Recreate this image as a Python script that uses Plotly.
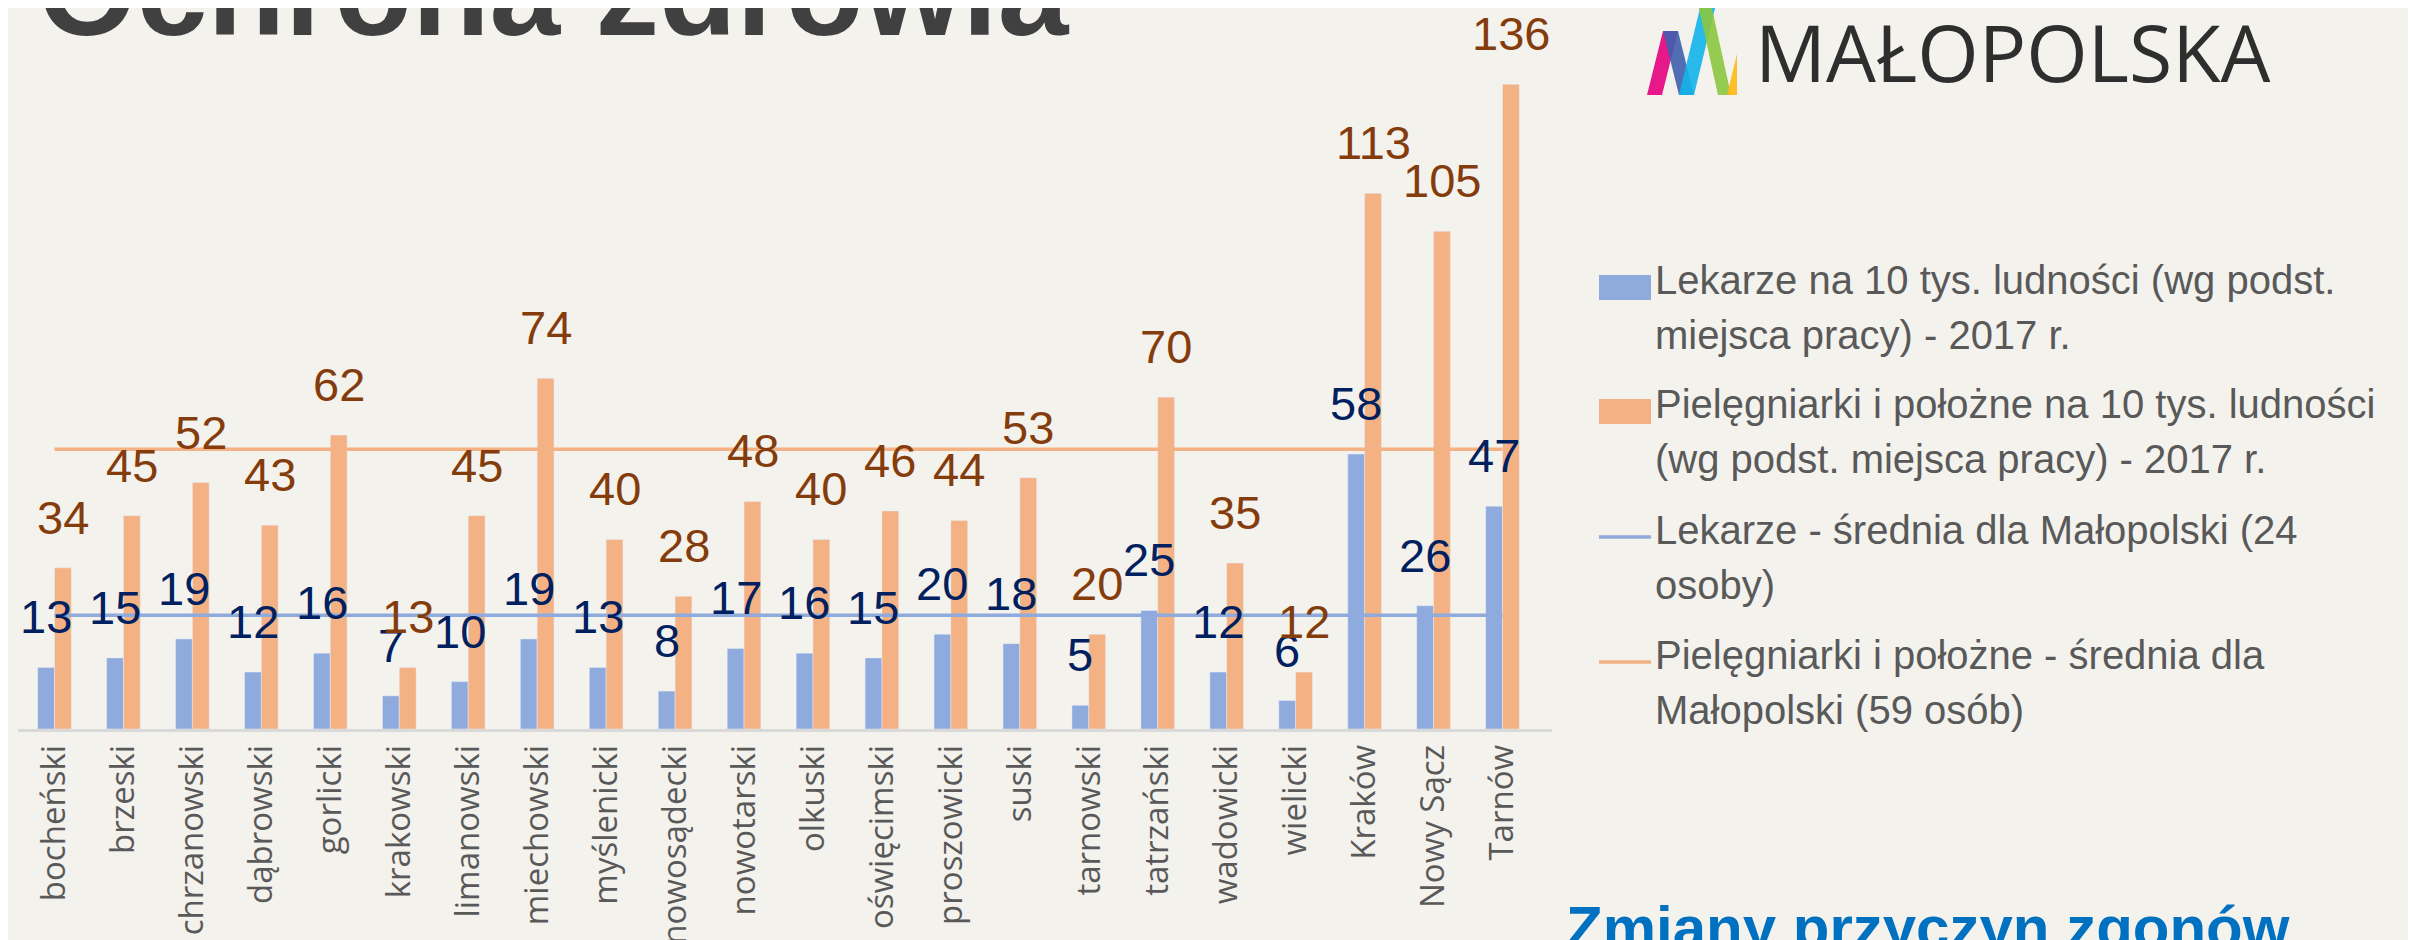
import plotly.graph_objects as go

# ---------------- data ----------------
categories = ["bocheński", "brzeski", "chrzanowski", "dąbrowski", "gorlicki", "krakowski",
              "limanowski", "miechowski", "myślenicki", "nowosądecki", "nowotarski", "olkuski",
              "oświęcimski", "proszowicki", "suski", "tarnowski", "tatrzański", "wadowicki",
              "wielicki", "Kraków", "Nowy Sącz", "Tarnów"]
lekarze = [13, 15, 19, 12, 16, 7, 10, 19, 13, 8, 17, 16, 15, 20, 18, 5, 25, 12, 6, 58, 26, 47]
pielegniarki = [34, 45, 52, 43, 62, 13, 45, 74, 40, 28, 48, 40, 46, 44, 53, 20, 70, 35, 12, 113, 105, 136]
lekarze_avg = [24, 24]
pielegniarki_avg = [59, 59]
avg_x = [categories[0], categories[-1]]

legend_texts = [
    ["Lekarze na 10 tys. ludności (wg podst.", "miejsca pracy) - 2017 r."],
    ["Pielęgniarki i położne na 10 tys. ludności", "(wg podst. miejsca pracy) - 2017 r."],
    ["Lekarze - średnia dla Małopolski (24", "osoby)"],
    ["Pielęgniarki i położne - średnia dla", "Małopolski (59 osób)"],
]
title_text = "Ochrona zdrowia"
logo_text = "MAŁOPOLSKA"
footer_text = "Zmiany przyczyn zgonów"

# ---------------- style ----------------
W, H = 2416, 940
BG = "#F4F2ED"
BLUE = "#8FAADC"
ORANGE = "#F4B183"
BLUE_TXT = "#002060"
ORANGE_TXT = "#843C0C"
SANS = "Liberation Sans, Arial"
LABEL_SIZE = 47
BAR_HALF = 8.5      # px offset of each bar centre from the category centre
LABEL_LIFT = 22     # px between bar top and label box


def px(x):
    return x / W


def py(y):
    return 1 - y / H


fig = go.Figure()
fig.add_trace(go.Bar(
    x=categories, y=lekarze, name=legend_texts[0][0] + " " + legend_texts[0][1],
    marker=dict(color=BLUE), showlegend=False, cliponaxis=False))
fig.add_trace(go.Bar(
    x=categories, y=pielegniarki, name=legend_texts[1][0] + " " + legend_texts[1][1],
    marker=dict(color=ORANGE), showlegend=False, cliponaxis=False))
fig.add_trace(go.Scatter(
    x=avg_x, y=lekarze_avg, mode="lines", line=dict(color=BLUE, width=3.5),
    name=legend_texts[2][0] + " " + legend_texts[2][1], showlegend=False, hoverinfo="skip"))
fig.add_trace(go.Scatter(
    x=avg_x, y=pielegniarki_avg, mode="lines", line=dict(color=ORANGE, width=3.5),
    name=legend_texts[3][0] + " " + legend_texts[3][1], showlegend=False, hoverinfo="skip"))

shapes = []
annotations = []

# data labels (drawn above everything, like the reference)
for cat, v in zip(categories, lekarze):
    annotations.append(dict(x=cat, y=v, xref="x", yref="y", text=str(v), showarrow=False,
                            xanchor="center", yanchor="bottom", xshift=-BAR_HALF,
                            yshift=LABEL_LIFT,
                            font=dict(family=SANS, size=LABEL_SIZE, color=BLUE_TXT)))
for cat, v in zip(categories, pielegniarki):
    annotations.append(dict(x=cat, y=v, xref="x", yref="y", text=str(v), showarrow=False,
                            xanchor="center", yanchor="bottom", xshift=BAR_HALF,
                            yshift=LABEL_LIFT,
                            font=dict(family=SANS, size=LABEL_SIZE, color=ORANGE_TXT)))

# manual legend (swatches + text)
legend_left, legend_right = 1591, 1643
entry_first_baseline = [292, 416, 542, 667]
line_step = 55
swatch_color = [BLUE, ORANGE, BLUE, ORANGE]
for i, lines in enumerate(legend_texts):
    b = entry_first_baseline[i]
    if i < 2:
        shapes.append(dict(type="rect", xref="paper", yref="paper",
                           x0=px(legend_left), x1=px(legend_right),
                           y0=py(b), y1=py(b - 25),
                           fillcolor=swatch_color[i], line=dict(width=0)))
    else:
        shapes.append(dict(type="line", xref="paper", yref="paper",
                           x0=px(legend_left), x1=px(legend_right),
                           y0=py(b - 13), y1=py(b - 13),
                           line=dict(color=swatch_color[i], width=3.5)))
    for j, t in enumerate(lines):
        annotations.append(dict(text=t, xref="paper", yref="paper",
                                x=px(1645), y=py(b + j * line_step + 4),
                                xanchor="left", yanchor="bottom", showarrow=False,
                                font=dict(family=SANS, size=40, color="#595959")))

# title
annotations.append(dict(text="<b>" + title_text + "</b>", xref="paper", yref="paper",
                        x=px(28), y=py(56), xanchor="left", yanchor="bottom",
                        showarrow=False,
                        font=dict(family=SANS, size=127, color="#404040")))
# logo text
annotations.append(dict(text=logo_text, xref="paper", yref="paper",
                        x=px(1745), y=py(99), xanchor="left", yanchor="bottom",
                        showarrow=False,
                        font=dict(family="Open Sans", size=79, color="#2E2E2E")))
# footer heading
annotations.append(dict(text="<b>" + footer_text + "</b>", xref="paper", yref="paper",
                        x=px(1556), y=py(884), xanchor="left", yanchor="top",
                        showarrow=False,
                        font=dict(family=SANS, size=60, color="#0070C0")))

# logo icon (decorative stripes)
def poly(points, color, opacity=0.9):
    d = "M " + " L ".join(f"{px(x):.6f},{py(y):.6f}" for x, y in points) + " Z"
    return dict(type="path", xref="paper", yref="paper", path=d,
                fillcolor=color, opacity=opacity, line=dict(width=0))

shapes.append(poly([(1639, 87), (1655, 23), (1670, 23), (1654, 87)], "#E6007E"))
shapes.append(poly([(1655, 23), (1670, 23), (1686, 87), (1671, 87)], "#3F5FAE"))
shapes.append(poly([(1671, 87), (1686, 87), (1708, -4), (1693, -4)], "#12B4EA"))
shapes.append(poly([(1690, -4), (1703, -4), (1723, 87), (1710, 87)], "#8CC63F"))
shapes.append(poly([(1719, 87), (1729, 87), (1729, 46)], "#FDB913"))

fig.update_layout(
    width=W, height=H,
    margin=dict(l=0, r=0, t=0, b=0),
    paper_bgcolor=BG, plot_bgcolor="rgba(0,0,0,0)",
    barmode="group", bargap=0.512, bargroupgap=0,
    showlegend=False,
    xaxis=dict(domain=[px(10), px(1544)], showline=True, linecolor="#D9D9D9", linewidth=2.5,
               showgrid=False, zeroline=False, ticks="", tickangle=-90,
               tickfont=dict(family="Open Sans", size=33, color="#595959"),
               ticklabelstandoff=0, fixedrange=True),
    yaxis=dict(domain=[py(721), 1], range=[0, 152.1], visible=False, showgrid=False,
               zeroline=False, fixedrange=True),
    shapes=shapes, annotations=annotations,
)

fig.write_html("out.html")
